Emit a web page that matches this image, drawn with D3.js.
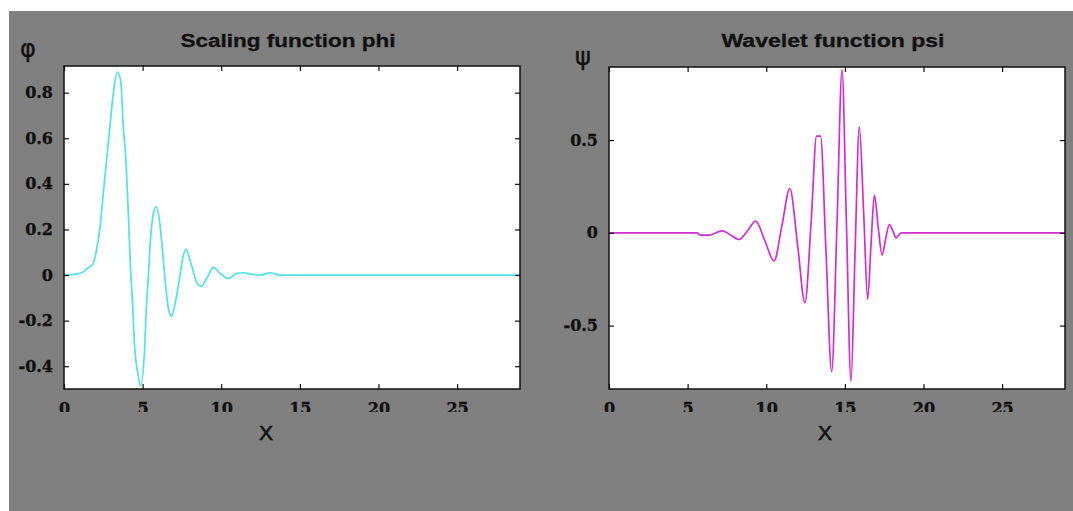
<!DOCTYPE html>
<html>
<head>
<meta charset="utf-8">
<script src="https://cdn.jsdelivr.net/npm/d3@7"></script>
<style>
  html, body { margin: 0; padding: 0; background: #ffffff; }
  svg { display: block; }
</style>
</head>
<body>
<svg id="chart" width="1073" height="511"></svg>
<script>
// Scaling function phi (x positions and values)
const phiX = [0, 0.5, 1.0, 1.25, 1.5, 1.85, 2.07, 2.29, 2.5, 2.7, 2.92, 3.14, 3.39, 3.6, 3.77, 3.94,
  4.1, 4.25, 4.36, 4.47, 4.69, 4.87, 5.13, 5.24, 5.35, 5.47, 5.68, 5.85, 6.07, 6.28, 6.47, 6.65,
  6.84, 7.05, 7.38, 7.57, 7.76, 7.95, 8.14, 8.46, 8.72, 9.08, 9.5, 9.92, 10.45, 10.98, 11.4, 12.0,
  12.5, 13.1, 13.7, 15, 17, 20, 23, 26, 29];
const phiY = [0, 0.002, 0.007, 0.015, 0.03, 0.05, 0.11, 0.21, 0.36, 0.50, 0.65, 0.80, 0.89, 0.855, 0.65, 0.50,
  0.255, 0.0, -0.12, -0.29, -0.43, -0.485, -0.32, -0.14, -0.02, 0.125, 0.27, 0.30, 0.24, 0.095, -0.05, -0.15,
  -0.18, -0.13, 0.0, 0.08, 0.113, 0.08, 0.036, -0.036, -0.05, -0.014, 0.034, 0.007, -0.015, 0.007, 0.01, 0.003,
  0.0, 0.01, 0.0, 0, 0, 0, 0, 0, 0];

// Wavelet function psi (x positions and values)
const psiX = [0, 5.6, 5.8, 6.1, 6.43, 6.8, 7.2, 7.7, 8.27, 8.8, 9.33, 9.9, 10.5, 11.0, 11.5, 12.0,
  12.46, 12.85, 13.2, 13.45, 13.8, 14.16, 14.5, 14.82, 15.1, 15.39, 15.65, 15.92, 16.2, 16.45, 16.67,
  16.88, 17.12, 17.37, 17.6, 17.83, 18.05, 18.26, 18.58, 19.0, 20, 23, 26, 29];
const psiY = [0, 0, -0.012, -0.012, -0.012, 0.0, 0.011, -0.01, -0.036, 0.01, 0.063, -0.04, -0.152, 0.04, 0.239, -0.07,
  -0.377, 0.05, 0.521, 0.521, -0.1, -0.749, 0.05, 0.88, 0.05, -0.80, -0.1, 0.571, 0.1, -0.359, -0.05,
  0.203, 0.03, -0.12, -0.03, 0.045, 0.01, -0.027, 0, 0, 0, 0, 0, 0];

// Axis ticks and ranges
const xTicks = [0, 5, 10, 15, 20, 25];
const phiTicks = [-0.4, -0.2, 0, 0.2, 0.4, 0.6, 0.8];
const psiTicks = [-0.5, 0, 0.5];
const xDomain = [0, 29];
const phiDomain = [-0.5, 0.917];
const psiDomain = [-0.842, 0.894];

const titles = ["Scaling function phi", "Wavelet function psi"];
const symbols = ["\u03C6", "\u03C8"];

const svg = d3.select("#chart");

// grey figure background
svg.append("rect")
  .attr("x", 9).attr("y", 11)
  .attr("width", 1073 - 9).attr("height", 511 - 11)
  .attr("fill", "#808080");

const panels = [
  { x0: 64, x1: 520, y0: 66, y1: 389, xs: phiX, ys: phiY, dom: phiDomain, ticks: phiTicks,
    color: "#4fe3e6", title: titles[0], titleW: 215, sym: symbols[0], symX: 28, symY: 57, xlabX: 266 },
  { x0: 609, x1: 1065, y0: 67, y1: 389, xs: psiX, ys: psiY, dom: psiDomain, ticks: psiTicks,
    color: "#d42cd4", title: titles[1], titleW: 223, sym: symbols[1], symX: 583, symY: 65, xlabX: 825 }
];

const tickFont = "'DejaVu Serif', serif";

panels.forEach((p, i) => {
  const x = d3.scaleLinear().domain(xDomain).range([p.x0, p.x1]);
  const y = d3.scaleLinear().domain(p.dom).range([p.y1, p.y0]);
  const g = svg.append("g");

  // plot area
  g.append("rect")
    .attr("x", p.x0).attr("y", p.y0)
    .attr("width", p.x1 - p.x0).attr("height", p.y1 - p.y0)
    .attr("fill", "#ffffff");

  const clipId = "clip" + i;
  svg.append("clipPath").attr("id", clipId)
    .append("rect")
    .attr("x", p.x0).attr("y", p.y0)
    .attr("width", p.x1 - p.x0).attr("height", p.y1 - p.y0);

  // curve
  const pts = p.xs.map((v, k) => [v, p.ys[k]]);
  const line = d3.line()
    .x(d => x(d[0]))
    .y(d => y(d[1]))
    .curve(d3.curveMonotoneX);
  g.append("path")
    .datum(pts)
    .attr("clip-path", `url(#${clipId})`)
    .attr("d", line)
    .attr("fill", "none")
    .attr("stroke", p.color)
    .attr("stroke-width", 1.7)
    .attr("stroke-linejoin", "round");

  // x tick labels are cut off slightly at the bottom (local coords of the axis group)
  const labClip = "labclip" + i;
  svg.append("clipPath").attr("id", labClip)
    .append("rect")
    .attr("x", p.x0 - 30).attr("y", -8)
    .attr("width", p.x1 - p.x0 + 60).attr("height", 31);

  const xAxis = g.append("g")
    .attr("transform", `translate(0,${p.y1})`)
    .call(d3.axisBottom(x).tickValues(xTicks).tickFormat(d3.format("d"))
      .tickSizeInner(-5).tickSizeOuter(0).tickPadding(14));

  const yAxis = g.append("g")
    .attr("transform", `translate(${p.x0},0)`)
    .call(d3.axisLeft(y).tickValues(p.ticks).tickFormat(d => d === 0 ? "0" : String(+d.toFixed(1)))
      .tickSizeInner(-5).tickSizeOuter(0).tickPadding(11));

  // mirrored ticks on top and right
  const topAxis = g.append("g")
    .attr("transform", `translate(0,${p.y0})`)
    .call(d3.axisTop(x).tickValues(xTicks).tickFormat("").tickSizeInner(-5).tickSizeOuter(0));
  const rightAxis = g.append("g")
    .attr("transform", `translate(${p.x1},0)`)
    .call(d3.axisRight(y).tickValues(p.ticks).tickFormat("").tickSizeInner(-5).tickSizeOuter(0));

  [xAxis, yAxis, topAxis, rightAxis].forEach(a => {
    a.select(".domain").remove();
    a.selectAll(".tick line").attr("stroke", "#111").attr("stroke-width", 1.2);
    a.selectAll("text")
      .attr("fill", "#111")
      .attr("stroke", "#111")
      .attr("stroke-width", 0.35)
      .style("font-family", tickFont)
      .style("font-weight", "bold")
      .style("font-size", "16px");
  });
  xAxis.attr("clip-path", `url(#${labClip})`);

  // frame
  g.append("rect")
    .attr("x", p.x0).attr("y", p.y0)
    .attr("width", p.x1 - p.x0).attr("height", p.y1 - p.y0)
    .attr("fill", "none")
    .attr("stroke", "#111")
    .attr("stroke-width", 1.5);

  // title
  g.append("text")
    .attr("x", (p.x0 + p.x1) / 2 - 4)
    .attr("y", 47)
    .attr("text-anchor", "middle")
    .attr("textLength", p.titleW)
    .attr("lengthAdjust", "spacingAndGlyphs")
    .style("font-family", "'Liberation Sans', Arial, sans-serif")
    .style("font-weight", "bold")
    .style("font-size", "18px")
    .attr("fill", "#111")
    .attr("stroke", "#111")
    .attr("stroke-width", 0.3)
    .text(p.title);

  // y symbol
  g.append("text")
    .attr("x", p.symX).attr("y", p.symY)
    .attr("text-anchor", "middle")
    .style("font-family", "'DejaVu Sans', sans-serif")
    .style("font-size", "24px")
    .attr("fill", "#111")
    .attr("stroke", "#111")
    .attr("stroke-width", 0.4)
    .text(p.sym);

  // x label
  g.append("text")
    .attr("x", p.xlabX).attr("y", 440)
    .attr("text-anchor", "middle")
    .style("font-family", "'Liberation Sans', Arial, sans-serif")
    .style("font-size", "21px")
    .attr("fill", "#111")
    .attr("stroke", "#111")
    .attr("stroke-width", 0.6)
    .text("X");
});
</script>
</body>
</html>
